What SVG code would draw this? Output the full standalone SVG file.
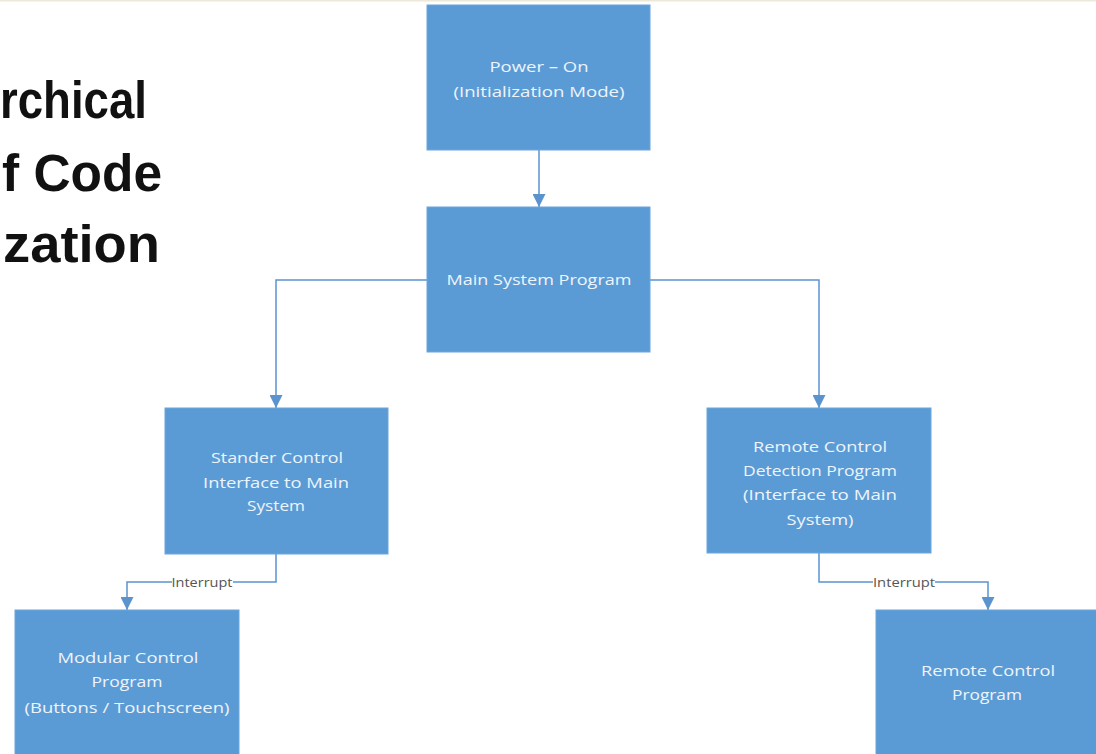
<svg xmlns="http://www.w3.org/2000/svg" width="1096" height="754" viewBox="0 0 1096 754">
  <defs>
    <marker id="arrow" viewBox="0 0 12 12" refX="12" refY="6" markerWidth="13" markerHeight="13" markerUnits="userSpaceOnUse" orient="auto">
      <path d="M0,0 L12,6 L0,12 Z" fill="#5b93cf"/>
    </marker>
  </defs>
  <style>
    .box { fill: #5b9bd5; stroke: #6aa6dc; stroke-width: 1; }
    .lbl { font-family: "Open Sans", "Noto Sans", sans-serif; font-size: 15px; fill: #eef4fb; text-anchor: middle; }
    .title { font-family: "Liberation Sans", Arial, sans-serif; font-weight: bold; font-size: 51px; fill: #111; }
    .edge { fill: none; stroke: #5b93cf; stroke-width: 1.5; }
    .tag { font-family: "Open Sans", "Noto Sans", sans-serif; font-size: 12.5px; fill: #555; text-anchor: middle; }
  </style>

  <rect x="0" y="0" width="1096" height="754" fill="#ffffff"/>
  <rect x="0" y="0" width="1096" height="1.5" fill="#ece8da"/>

  <!-- heading, clipped at the page edge -->
  <g id="heading">
    <text class="title" x="0" y="118" textLength="147" lengthAdjust="spacingAndGlyphs">rchical</text>
    <text class="title" x="2" y="191" textLength="160" lengthAdjust="spacingAndGlyphs">f Code</text>
    <text class="title" x="3" y="262" textLength="157" lengthAdjust="spacingAndGlyphs">zation</text>
  </g>

  <!-- connectors -->
  <g id="connectors">
    <path class="edge" d="M539,150 V207" marker-end="url(#arrow)"/>
    <path class="edge" d="M427,280 H276 V408" marker-end="url(#arrow)"/>
    <path class="edge" d="M650,280 H819 V408" marker-end="url(#arrow)"/>
    <path class="edge" d="M276,554 V582 H127 V610" marker-end="url(#arrow)"/>
    <path class="edge" d="M819,553 V582 H988 V610" marker-end="url(#arrow)"/>
    <rect x="172" y="575" width="61" height="14" fill="#ffffff"/>
    <text class="tag" x="202" y="587" textLength="61" lengthAdjust="spacingAndGlyphs">Interrupt</text>
    <rect x="873" y="575" width="62" height="14" fill="#ffffff"/>
    <text class="tag" x="904" y="587" textLength="62" lengthAdjust="spacingAndGlyphs">Interrupt</text>
  </g>

  <g id="power-on">
    <rect class="box" x="427" y="5" width="223" height="145"/>
    <text class="lbl" x="539" y="72" textLength="99" lengthAdjust="spacingAndGlyphs">Power – On</text>
    <text class="lbl" x="539" y="97" textLength="171" lengthAdjust="spacingAndGlyphs">(Initialization Mode)</text>
  </g>

  <g id="main-system">
    <rect class="box" x="427" y="207" width="223" height="145"/>
    <text class="lbl" x="539" y="285" textLength="185" lengthAdjust="spacingAndGlyphs">Main System Program</text>
  </g>

  <g id="stander-control">
    <rect class="box" x="165" y="408" width="223" height="146"/>
    <text class="lbl" x="277" y="463" textLength="132" lengthAdjust="spacingAndGlyphs">Stander Control</text>
    <text class="lbl" x="276" y="488" textLength="146" lengthAdjust="spacingAndGlyphs">Interface to Main</text>
    <text class="lbl" x="276" y="511" textLength="58" lengthAdjust="spacingAndGlyphs">System</text>
  </g>

  <g id="remote-detection">
    <rect class="box" x="707" y="408" width="224" height="145"/>
    <text class="lbl" x="820" y="452" textLength="134" lengthAdjust="spacingAndGlyphs">Remote Control</text>
    <text class="lbl" x="820" y="476" textLength="154" lengthAdjust="spacingAndGlyphs">Detection Program</text>
    <text class="lbl" x="820" y="500" textLength="154" lengthAdjust="spacingAndGlyphs">(Interface to Main</text>
    <text class="lbl" x="820" y="525" textLength="67" lengthAdjust="spacingAndGlyphs">System)</text>
  </g>

  <g id="modular-control">
    <rect class="box" x="15" y="610" width="224" height="150"/>
    <text class="lbl" x="128" y="663" textLength="141" lengthAdjust="spacingAndGlyphs">Modular Control</text>
    <text class="lbl" x="127" y="687" textLength="71" lengthAdjust="spacingAndGlyphs">Program</text>
    <text class="lbl" x="127" y="713" textLength="205" lengthAdjust="spacingAndGlyphs">(Buttons / Touchscreen)</text>
  </g>

  <g id="remote-control">
    <rect class="box" x="876" y="610" width="224" height="150"/>
    <text class="lbl" x="988" y="676" textLength="134" lengthAdjust="spacingAndGlyphs">Remote Control</text>
    <text class="lbl" x="987" y="700" textLength="70" lengthAdjust="spacingAndGlyphs">Program</text>
  </g>
</svg>
